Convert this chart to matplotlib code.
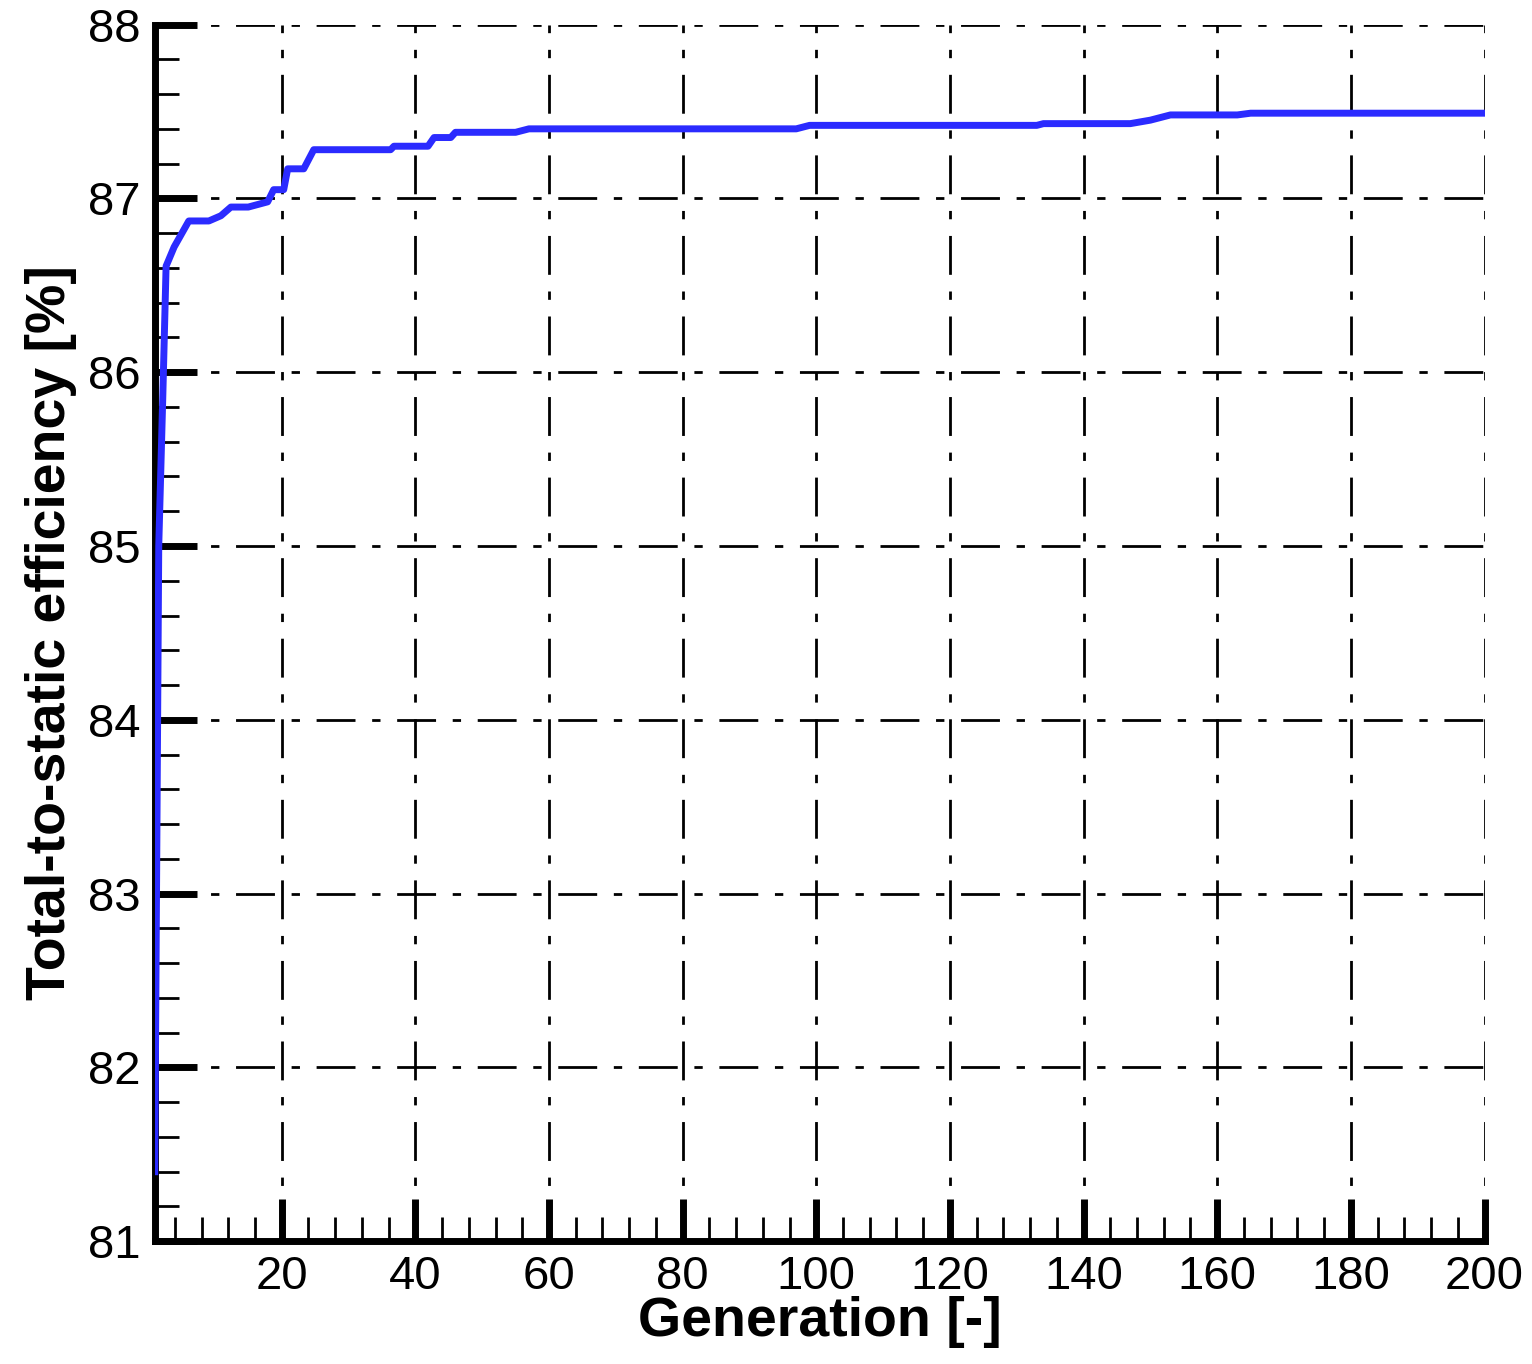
import matplotlib
matplotlib.use("Agg")
import matplotlib.pyplot as plt
from matplotlib.ticker import MultipleLocator

gen = [1, 1.3, 1.6, 2.2, 2.7, 3.9, 6.1, 9.1, 10.9, 12.4, 15, 17.9, 18.8, 20.3, 20.9, 23.3, 24.8,
       36.3, 36.8, 41.9, 42.8, 45.3, 46, 55, 57, 97, 99, 133, 134, 147, 150, 153, 163, 165, 200]
eff = [81.4, 83.2, 85.0, 85.85, 86.61, 86.72, 86.87, 86.87, 86.9, 86.95, 86.95, 86.98, 87.05, 87.05,
       87.17, 87.17, 87.28, 87.28, 87.3, 87.3, 87.35, 87.35, 87.38, 87.38, 87.4, 87.4, 87.42, 87.42,
       87.43, 87.43, 87.45, 87.48, 87.48, 87.49, 87.49]

plt.rcParams['font.family'] = ['Liberation Sans', 'DejaVu Sans']
fig = plt.figure(figsize=(15.32, 13.64), dpi=100)
ax = fig.add_axes([0.101, 0.090, 0.868, 0.892])
ax.plot(gen, eff, color='#2b2bff', lw=5, solid_joinstyle='round', zorder=3)
ax.set_xlim(1, 200)
ax.set_ylim(81, 88)
ax.xaxis.set_major_locator(MultipleLocator(20))
ax.xaxis.set_minor_locator(MultipleLocator(4))
ax.yaxis.set_major_locator(MultipleLocator(1))
ax.yaxis.set_minor_locator(MultipleLocator(0.2))
for s in ['top', 'right']:
    ax.spines[s].set_visible(False)
for s in ['left', 'bottom']:
    ax.spines[s].set_linewidth(5)
ax.tick_params(which='major', direction='in', length=30, width=5, labelsize=34, pad=10)
ax.tick_params(which='minor', direction='in', length=17, width=2)
ax.grid(True, which='major', color='black', linestyle=(0, (14, 6, 3, 6)), lw=2)
ax.set_xlabel('Generation [-]', fontsize=40, fontweight='bold', labelpad=-2)
ax.set_ylabel('Total-to-static efficiency [%]', fontsize=40, fontweight='bold', labelpad=8)
fig.savefig('out.png', dpi=100)
